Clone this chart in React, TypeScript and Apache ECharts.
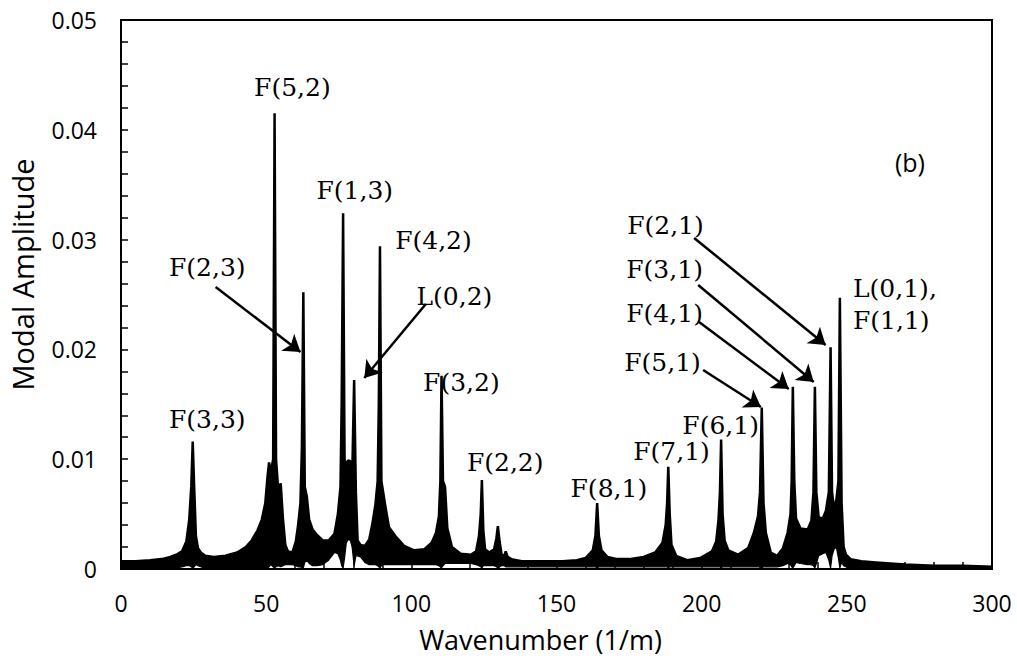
import React, { useEffect, useRef } from 'react';
import * as echarts from 'echarts';

// Wavenumber samples (1/m) with the upper and lower edge of the dense oscillating trace
const wavenumber = [
  0, 5, 10, 14, 17, 19, 21, 22.5, 23.5, 24.2,
  24.7, 25.2, 25.8, 26.5, 27.5, 29, 32, 36, 40, 43,
  45, 47, 48.5, 49.7, 50.5, 51.0, 51.6, 52.4, 52.9, 53.4,
  54.2, 55.0, 55.8, 56.6, 57.5, 59.0, 60.2, 61.0, 61.8, 62.3,
  62.8, 63.3, 64.0, 64.8, 66, 67.5, 69.5, 71.5, 73.5, 74.7,
  75.6, 76.0, 76.5, 77.0, 77.6, 78.3, 79.0, 79.6, 80.3, 80.9,
  81.5, 82.5, 84.0, 85.5, 86.5, 87.6, 88.4, 88.8, 89.2, 89.7,
  90.3, 91.0, 92.3, 94.5, 97.5, 101, 104.5, 107, 108.5, 109.5,
  110.0, 110.4, 110.9, 111.6, 112.4, 114, 117, 120.5, 122.3, 123.3,
  123.9, 124.3, 124.8, 125.4, 126.8, 128.5, 129.3, 129.8, 130.4, 131.1,
  132.0, 132.5, 133.2, 134.5, 138, 145, 152, 157, 160, 162.5,
  163.4, 164.0, 164.6, 165.5, 167.5, 171, 175, 180, 184, 186.5,
  187.6, 188.1, 188.5, 189.0, 189.6, 191.2, 195, 199.5, 203.5, 205.0,
  205.8, 206.3, 206.7, 207.2, 207.9, 209.2, 212.5, 216, 218, 219.4,
  220.1, 220.7, 221.3, 222.1, 223.8, 226, 228, 229.6, 230.6, 231.0,
  231.4, 231.9, 232.5, 234, 236.5, 237.8, 238.5, 239.0, 239.5, 240.3,
  241.7, 242.8, 243.8, 244.4, 244.9, 245.6, 246.4, 247.1, 247.6, 248.2,
  248.9, 249.7, 251.3, 255, 260, 270, 280, 290, 300,
];

const upperEnvelope = [
  0.0007, 0.0007, 0.0008, 0.0009, 0.0011, 0.0013, 0.0016, 0.0025, 0.0045, 0.0075,
  0.0116, 0.0075, 0.0030, 0.0019, 0.0015, 0.0012, 0.0011, 0.0012, 0.0015, 0.0020,
  0.0026, 0.0035, 0.0045, 0.0060, 0.0085, 0.0097, 0.0088, 0.0100, 0.0415, 0.0100,
  0.0070, 0.0078, 0.0045, 0.0022, 0.0016, 0.0015, 0.0025, 0.0040, 0.0060, 0.0110,
  0.0252, 0.0075, 0.0066, 0.0045, 0.0036, 0.0031, 0.0026, 0.0026, 0.0032, 0.0050,
  0.0075, 0.0150, 0.0324, 0.0100, 0.0095, 0.0099, 0.0098, 0.0080, 0.0172, 0.0070,
  0.0026, 0.0022, 0.0021, 0.0027, 0.0040, 0.0058, 0.0080, 0.0150, 0.0294, 0.0080,
  0.0070, 0.0058, 0.0038, 0.0030, 0.0021, 0.0017, 0.0018, 0.0024, 0.0033, 0.0048,
  0.0080, 0.0176, 0.0080, 0.0075, 0.0037, 0.0020, 0.0014, 0.0013, 0.0016, 0.0030,
  0.0050, 0.0081, 0.0035, 0.0018, 0.0015, 0.0018, 0.0028, 0.0039, 0.0025, 0.0013,
  0.0012, 0.0016, 0.0011, 0.0009, 0.0007, 0.0007, 0.0007, 0.0008, 0.0010, 0.0017,
  0.0030, 0.0060, 0.0030, 0.0017, 0.0011, 0.0009, 0.0009, 0.0011, 0.0015, 0.0024,
  0.0040, 0.0060, 0.0093, 0.0050, 0.0022, 0.0012, 0.0008, 0.0010, 0.0016, 0.0025,
  0.0045, 0.0070, 0.0118, 0.0050, 0.0026, 0.0017, 0.0013, 0.0019, 0.0033, 0.0048,
  0.0070, 0.0147, 0.0060, 0.0033, 0.0015, 0.0012, 0.0019, 0.0033, 0.0050, 0.0080,
  0.0166, 0.0080, 0.0046, 0.0037, 0.0036, 0.0044, 0.0070, 0.0166, 0.0070, 0.0047,
  0.0046, 0.0053, 0.0070, 0.0202, 0.0070, 0.0055, 0.0063, 0.0080, 0.0247, 0.0060,
  0.0020, 0.0013, 0.0009, 0.0007, 0.0006, 0.0004, 0.0003, 0.0003, 0.0002,
];

const lowerEnvelope = [
  0.0001, 0.0001, 0.0001, 0.0001, 0.0001, 0.0001, 0.0002, 0.0003, 0.0003, 0.0002,
  0.0001, 0.0002, 0.0004, 0.0003, 0.0002, 0.0001, 0.0001, 0.0001, 0.0001, 0.0001,
  0.0001, 0.0001, 0.0001, 0.0001, 0.0001, 0.0002, 0.0004, 0.0002, 0.0001, 0.0002,
  0.0003, 0.0002, 0.0003, 0.0004, 0.0004, 0.0004, 0.0003, 0.0002, 0.0002, 0.0001,
  0.0001, 0.0006, 0.0008, 0.0005, 0.0003, 0.0003, 0.0004, 0.0008, 0.0015, 0.0014,
  0.0008, 0.0003, 0.0001, 0.0010, 0.0024, 0.0027, 0.0026, 0.0020, 0.0003, 0.0012,
  0.0012, 0.0011, 0.0006, 0.0004, 0.0004, 0.0004, 0.0003, 0.0002, 0.0001, 0.0003,
  0.0004, 0.0004, 0.0004, 0.0004, 0.0004, 0.0004, 0.0004, 0.0004, 0.0004, 0.0003,
  0.0002, 0.0001, 0.0003, 0.0005, 0.0005, 0.0005, 0.0005, 0.0005, 0.0004, 0.0003,
  0.0002, 0.0001, 0.0003, 0.0003, 0.0003, 0.0003, 0.0002, 0.0001, 0.0002, 0.0003,
  0.0003, 0.0002, 0.0002, 0.0002, 0.0002, 0.0002, 0.0002, 0.0002, 0.0002, 0.0002,
  0.0002, 0.0001, 0.0002, 0.0002, 0.0002, 0.0002, 0.0002, 0.0002, 0.0002, 0.0002,
  0.0002, 0.0002, 0.0001, 0.0002, 0.0002, 0.0002, 0.0002, 0.0002, 0.0002, 0.0002,
  0.0002, 0.0002, 0.0001, 0.0002, 0.0002, 0.0002, 0.0002, 0.0002, 0.0002, 0.0002,
  0.0002, 0.0001, 0.0002, 0.0002, 0.0002, 0.0002, 0.0003, 0.0005, 0.0004, 0.0002,
  0.0001, 0.0003, 0.0006, 0.0005, 0.0004, 0.0004, 0.0003, 0.0001, 0.0005, 0.0012,
  0.0014, 0.0015, 0.0008, 0.0001, 0.0012, 0.0018, 0.0020, 0.0010, 0.0001, 0.0006,
  0.0003, 0.0002, 0.0001, 0.0001, 0.0001, 0.0001, 0.0001, 0.0001, 0.0001,
];

// Mode annotations (text, anchor in data units, alignment)
const modeNames = [
  'F(3,3)', 'F(5,2)', 'F(2,3)', 'F(1,3)', 'F(4,2)', 'L(0,2)', 'F(3,2)', 'F(2,2)',
  'F(8,1)', 'F(7,1)', 'F(6,1)', 'F(5,1)', 'F(4,1)', 'F(3,1)', 'F(2,1)', 'L(0,1),', 'F(1,1)',
];
const modeLabelX = [29.9, 59.2, 29.9, 80.7, 107.8, 115.0, 117.4, 132.5, 168.2, 189.8, 206.7, 186.7, 187.4, 187.4, 187.7, 252.3, 252.3];
const modeLabelY = [0.01357, 0.0438, 0.02741, 0.03443, 0.02987, 0.02477, 0.01694, 0.00965, 0.00729, 0.01066, 0.01302, 0.01876, 0.02322, 0.02723, 0.03124, 0.0255, 0.02259];
const modeLabelAlign = ['center', 'center', 'center', 'center', 'center', 'center', 'center', 'center', 'center', 'center', 'center', 'center', 'center', 'center', 'center', 'left', 'left'];

// Arrows: [fromX, fromY, toX, toY]
const arrowLines = [
  [32.6, 0.02568, 61.8, 0.01976],
  [105.0, 0.02413, 83.8, 0.0174],
  [197.4, 0.03015, 242.7, 0.0204],
  [198.8, 0.02587, 238.6, 0.01703],
  [199.1, 0.0225, 230.0, 0.01639],
  [200.5, 0.01812, 220.4, 0.01475],
];

const panelTag = '(b)';
const panelTagX = 271.9;
const panelTagY = 0.03698;

export default function App() {
  const ref = useRef<HTMLDivElement>(null);

  useEffect(() => {
    if (!ref.current) return;
    const chart = echarts.init(ref.current, null, { renderer: 'svg' });

    const upperData = wavenumber.map((x, i) => [x, upperEnvelope[i]]);
    const lowerData = wavenumber.map((x, i) => [x, lowerEnvelope[i]]);

    const labelFont = 'DejaVu Serif';
    const markPoints: any[] = modeNames.map((t, i) => ({
      coord: [modeLabelX[i], modeLabelY[i]],
      label: {
        show: true,
        formatter: t,
        position: [0, 0],
        align: modeLabelAlign[i],
        verticalAlign: 'middle',
        fontFamily: labelFont,
        fontSize: 25,
        color: '#000',
      },
    }));
    markPoints.push({
      coord: [panelTagX, panelTagY],
      label: {
        show: true,
        formatter: panelTag,
        position: [0, 0],
        align: 'center',
        verticalAlign: 'middle',
        fontFamily: 'Open Sans',
        fontSize: 25,
        color: '#000',
      },
    });

    const markLines = arrowLines.map((a) => [
      { coord: [a[0], a[1]] },
      { coord: [a[2], a[3]] },
    ]);

    const axisFont = 'Open Sans';

    chart.setOption({
      animation: false,
      backgroundColor: '#fff',
      grid: {
        left: 118,
        right: 25,
        top: 20,
        bottom: 90,
        show: true,
        borderColor: '#000',
        borderWidth: 2,
        backgroundColor: 'transparent',
        z: 20,
      },
      xAxis: {
        type: 'value',
        min: 0,
        max: 300,
        interval: 50,
        z: 20,
        name: 'Wavenumber (1/m)',
        nameLocation: 'middle',
        nameGap: 57,
        nameTextStyle: { fontFamily: axisFont, fontSize: 27, color: '#000', padding: [0, 32, 0, 0] },
        axisLine: { show: true, lineStyle: { color: '#000', width: 2 } },
        axisTick: { show: true, inside: true, length: 7, lineStyle: { color: '#000', width: 1.5 } },
        minorTick: { show: true, splitNumber: 5, length: 7, lineStyle: { color: '#000', width: 1.5 } },
        axisLabel: { fontFamily: axisFont, fontSize: 23, color: '#000', margin: 22 },
        splitLine: { show: false },
      },
      yAxis: {
        type: 'value',
        min: 0,
        max: 0.05,
        interval: 0.01,
        z: 20,
        name: 'Modal Amplitude',
        nameLocation: 'middle',
        nameGap: 84,
        nameTextStyle: { fontFamily: axisFont, fontSize: 29, color: '#000', padding: [0, 0, 0, 40] },
        axisLine: { show: true, lineStyle: { color: '#000', width: 2 } },
        axisTick: { show: true, inside: true, length: 7, lineStyle: { color: '#000', width: 1.5 } },
        minorTick: { show: true, splitNumber: 5, length: 7, lineStyle: { color: '#000', width: 1.5 } },
        axisLabel: {
          fontFamily: axisFont,
          fontSize: 23,
          color: '#000',
          margin: 24,
          formatter: (v: number) => (v === 0 ? '0' : String(+v.toFixed(3))),
        },
        splitLine: { show: false },
      },
      series: [
        {
          type: 'line',
          name: 'upper',
          data: upperData,
          showSymbol: false,
          symbol: 'none',
          lineStyle: { color: '#000', width: 2.5 },
          areaStyle: { color: '#000', opacity: 1, origin: 'start' },
          silent: true,
          z: 2,
        },
        {
          type: 'line',
          name: 'lower',
          data: lowerData,
          showSymbol: false,
          symbol: 'none',
          lineStyle: { color: '#000', width: 1.2 },
          areaStyle: { color: '#fff', opacity: 1, origin: 'start' },
          silent: true,
          z: 3,
          markPoint: {
            silent: true,
            symbol: 'circle',
            symbolSize: 1,
            itemStyle: { color: 'rgba(0,0,0,0)' },
            data: markPoints,
          },
          markLine: {
            silent: true,
            symbol: ['none', 'arrow'],
            symbolSize: 16,
            label: { show: false },
            lineStyle: { color: '#000', width: 2.5, type: 'solid' },
            itemStyle: { color: '#000' },
            data: markLines,
          },
        },
      ],
    });

    return () => {
      chart.dispose();
    };
  }, []);

  return (
    <div
      ref={ref}
      style={{ position: 'fixed', left: 0, top: 0, width: 1017, height: 659, background: '#fff' }}
    />
  );
}
